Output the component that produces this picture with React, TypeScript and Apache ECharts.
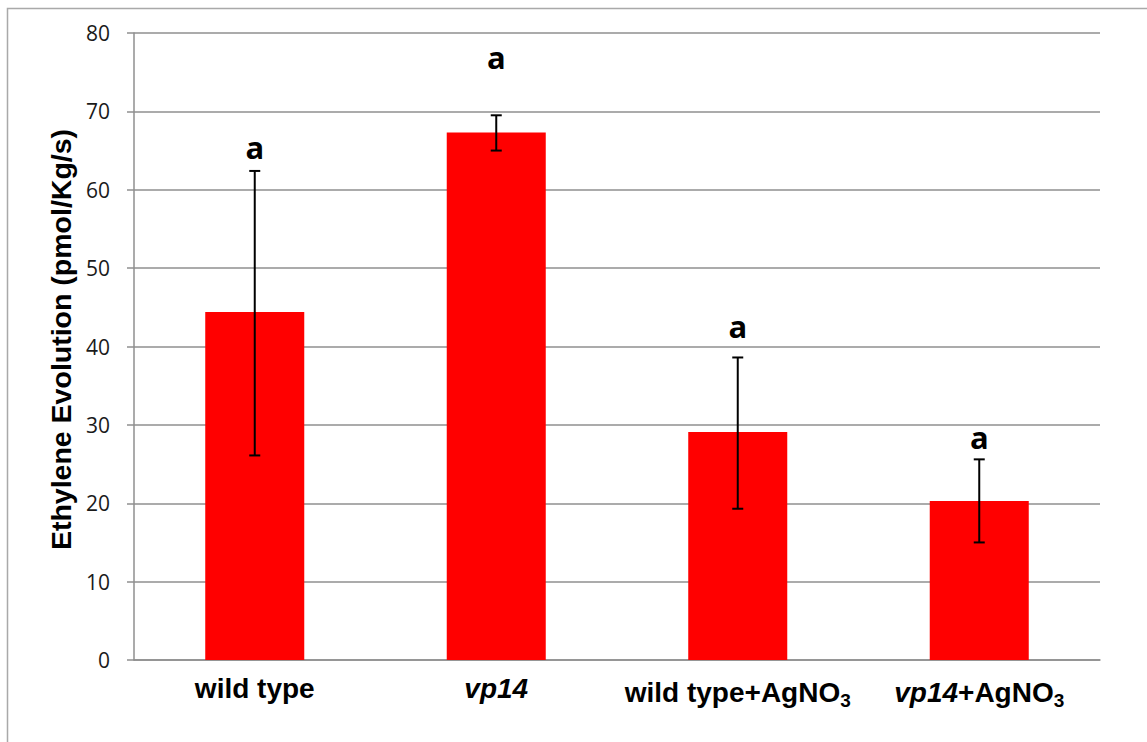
import React, { useEffect, useRef } from "react";
import * as echarts from "echarts";

const categories = ["wild type", "vp14", "wild type+AgNO3", "vp14+AgNO3"];
const categoryLabels = [
  "{b|wild type}",
  "{bi|vp14}",
  "{b|wild type+AgNO}{sub|3}",
  "{bi|vp14}{b|+AgNO}{sub|3}",
];
const means = [44.4, 67.3, 29.1, 20.3];
const errLow = [26.1, 65.0, 19.3, 15.0];
const errHigh = [62.4, 69.5, 38.6, 25.6];
const letters = ["a", "a", "a", "a"];
const letterPos = [65.4, 76.9, 42.6, 28.4];
const yTicks = { min: 0, max: 80, interval: 10 };

export default function App() {
  const ref = useRef<HTMLDivElement>(null);
  useEffect(() => {
    if (!ref.current) return;
    const chart = echarts.init(ref.current, null, { renderer: "svg" });
    const gray = "#8f8f8f";
    chart.setOption({
      animation: false,
      backgroundColor: "#ffffff",
      graphic: [
        {
          type: "rect",
          shape: { x: 7.5, y: 8.5, width: 1200, height: 800 },
          style: { fill: "none", stroke: "#a9a9a9", lineWidth: 1.5 },
          silent: true,
          z: -1,
        },
      ],
      grid: { left: 134, right: 47, top: 33, bottom: 82 },
      xAxis: {
        type: "category",
        data: categories,
        axisLine: { show: true, lineStyle: { color: gray, width: 1.5 } },
        axisTick: { show: false },
        splitLine: { show: false },
        axisLabel: {
          margin: 14,
          interval: 0,
          formatter: (_v: string, i: number) => categoryLabels[i],
          rich: {
            b: { fontFamily: "Liberation Sans, Arial", fontWeight: "bold", fontSize: 28, color: "#000" },
            bi: { fontFamily: "Liberation Sans, Arial", fontWeight: "bold", fontStyle: "italic", fontSize: 28, color: "#000" },
            sub: { fontFamily: "Liberation Sans, Arial", fontWeight: "bold", fontSize: 19, color: "#000", padding: [17, 0, 0, 0] },
          },
        },
      },
      yAxis: {
        type: "value",
        min: yTicks.min,
        max: yTicks.max,
        interval: yTicks.interval,
        name: "Ethylene Evolution (pmol/Kg/s)",
        nameLocation: "middle",
        nameGap: 58,
        nameTextStyle: { fontFamily: "Liberation Sans, Arial", fontWeight: "bold", fontSize: 28.5, color: "#000", padding: [0, 0, 0, 14] },
        axisLine: { show: true, lineStyle: { color: gray, width: 1.5 } },
        axisTick: { show: true, length: 7, lineStyle: { color: gray, width: 1.5 } },
        splitLine: { show: true, lineStyle: { color: gray, width: 1.5 } },
        axisLabel: { margin: 24, fontFamily: "Open Sans", fontSize: 21, color: "#1a1a1a" },
      },
      series: [
        {
          type: "bar",
          data: means,
          barWidth: "41%",
          itemStyle: { color: "#ff0000" },
          silent: true,
        },
        {
          type: "custom",
          data: categories.map((_c, i) => [i, errLow[i], errHigh[i]]),
          renderItem: (params: any, api: any) => {
            const i = api.value(0);
            const lo = api.coord([i, api.value(1)]);
            const hi = api.coord([i, api.value(2)]);
            const hw = 5.5;
            const st = { stroke: "#000", lineWidth: 2 };
            return {
              type: "group",
              children: [
                { type: "line", shape: { x1: hi[0], y1: hi[1], x2: lo[0], y2: lo[1] }, style: st },
                { type: "line", shape: { x1: hi[0] - hw, y1: hi[1], x2: hi[0] + hw, y2: hi[1] }, style: st },
                { type: "line", shape: { x1: lo[0] - hw, y1: lo[1], x2: lo[0] + hw, y2: lo[1] }, style: st },
              ],
            };
          },
          z: 5,
          silent: true,
        },
        {
          type: "custom",
          data: categories.map((_c, i) => [i, letterPos[i]]),
          renderItem: (params: any, api: any) => {
            const p = api.coord([api.value(0), api.value(1)]);
            return {
              type: "text",
              x: p[0],
              y: p[1],
              style: {
                text: letters[params.dataIndex],
                fontFamily: "Open Sans",
                fontWeight: "bold",
                fontSize: 31,
                fill: "#000",
                align: "center",
                verticalAlign: "middle",
              },
            };
          },
          z: 6,
          silent: true,
        },
      ],
    });
    return () => chart.dispose();
  }, []);
  return (
    <div
      ref={ref}
      style={{ position: "fixed", left: 0, top: 0, width: 1147, height: 742 }}
    />
  );
}
